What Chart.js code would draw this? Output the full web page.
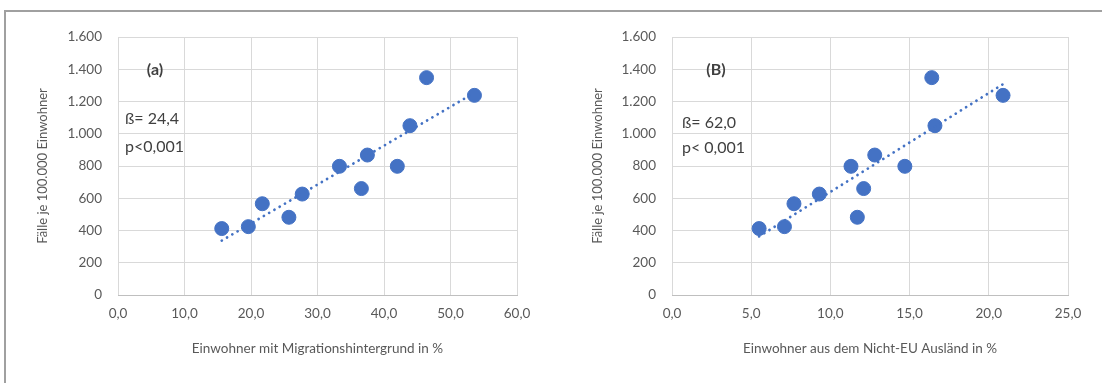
<!DOCTYPE html>
<html lang="de">
<head>
<meta charset="utf-8">
<title>Fälle je 100.000 Einwohner</title>
<script src="https://cdn.jsdelivr.net/npm/chart.js@4/dist/chart.umd.min.js"></script>
<style>
  html, body { margin: 0; padding: 0; background: #ffffff; }
  #page { position: relative; width: 1102px; height: 383px; overflow: hidden; }
  #frame {
    position: absolute; left: 4px; top: 10px; width: 1100px; height: 380px;
    border-left: 2px solid #a0a0a0; border-top: 2px solid #a0a0a0;
  }
  .panel { position: absolute; top: 0; width: 551px; height: 383px; }
  #panelA { left: 0; }
  #panelB { left: 551px; }
</style>
</head>
<body>
<div id="page">
  <div id="frame"></div>
  <div class="panel" id="panelA"><canvas id="chartA" width="551" height="383"></canvas></div>
  <div class="panel" id="panelB"><canvas id="chartB" width="551" height="383"></canvas></div>
</div>
<script>
// Cases per 100,000 inhabitants per region
const casesPer100k = [412, 424, 566, 482, 626, 798, 660, 868, 798, 1050, 1348, 1238];
// Share of inhabitants with a migration background, %
const migrationPct = [15.6, 19.6, 21.7, 25.7, 27.7, 33.3, 36.6, 37.5, 42.0, 43.9, 46.4, 53.6];
// Share of inhabitants from non-EU countries, %
const nonEuPct = [5.5, 7.1, 7.7, 11.7, 9.3, 11.3, 12.1, 12.8, 14.7, 16.6, 16.4, 20.9];

// Tick labels
const yTickLabels = ['0', '200', '400', '600', '800', '1.000', '1.200', '1.400', '1.600'];
const xTickLabelsA = ['0,0', '10,0', '20,0', '30,0', '40,0', '50,0', '60,0'];
const xTickLabelsB = ['0,0', '5,0', '10,0', '15,0', '20,0', '25,0'];

// Axis titles and panel notes
const yTitle = 'Fälle je 100.000 Einwohner';
const xTitleA = 'Einwohner mit Migrationshintergrund in %';
const xTitleB = 'Einwohner aus dem Nicht-EU Ausländ in %';
const notesA = ['(a)', 'ß= 24,4', 'p<0,001'];
const notesB = ['(B)', 'ß= 62,0', 'p< 0,001'];

const BLUE = '#4472C4';
const FONT = 'Lato, "Open Sans", sans-serif';

// Least-squares line over the x range of the data
function trendLine(xs, ys) {
  const n = xs.length;
  const mx = xs.reduce((a, b) => a + b, 0) / n;
  const my = ys.reduce((a, b) => a + b, 0) / n;
  let sxy = 0, sxx = 0;
  for (let i = 0; i < n; i++) {
    sxy += (xs[i] - mx) * (ys[i] - my);
    sxx += (xs[i] - mx) * (xs[i] - mx);
  }
  const slope = sxy / sxx;
  const x0 = Math.min(...xs), x1 = Math.max(...xs);
  return [
    { x: x0, y: my + slope * (x0 - mx) },
    { x: x1, y: my + slope * (x1 - mx) }
  ];
}

// Draws the panel letter and the regression notes inside the plot area
const notesPlugin = {
  id: 'panelNotes',
  afterDraw(chart, args, opts) {
    const { ctx, chartArea } = chart;
    ctx.save();
    ctx.fillStyle = '#404040';
    ctx.textBaseline = 'middle';
    opts.items.forEach(it => {
      ctx.font = (it.bold ? 'bold ' : '') + it.size + 'px ' + FONT;
      ctx.textAlign = it.align;
      ctx.fillText(it.text, chartArea.left + it.dx, chartArea.top + it.dy);
    });
    ctx.restore();
  }
};

function makeChart(id, xs, xMax, xStep, xLabels, xTitle, notes, padLeft, yWidth, noteOffsets) {
  const points = xs.map((x, i) => ({ x: x, y: casesPer100k[i] }));
  return new Chart(document.getElementById(id), {
    type: 'scatter',
    data: {
      datasets: [
        {
          type: 'line',
          data: trendLine(xs, casesPer100k),
          borderColor: BLUE,
          borderWidth: 2.7,
          borderDash: [0.1, 6],
          borderCapStyle: 'round',
          pointRadius: 0,
          fill: false,
          order: 0
        },
        {
          data: points,
          backgroundColor: BLUE,
          borderColor: BLUE,
          pointRadius: 7,
          pointHoverRadius: 7,
          order: 1
        }
      ]
    },
    options: {
      responsive: false,
      animation: false,
      events: [],
      layout: { padding: { left: padLeft, top: 37, right: 34, bottom: 20 } },
      plugins: {
        legend: { display: false },
        tooltip: { enabled: false },
        panelNotes: { items: noteOffsets.map((o, i) => Object.assign({ text: notes[i] }, o)) }
      },
      scales: {
        x: {
          type: 'linear',
          min: 0, max: xMax,
          afterFit: s => { s.height = 68; },
          grid: { color: '#d9d9d9', lineWidth: 1, drawTicks: false },
          border: { display: true, color: '#bfbfbf', width: 1 },
          ticks: {
            stepSize: xStep,
            padding: 11,
            color: '#595959',
            font: { family: FONT, size: 13.5 },
            maxRotation: 0,
            callback: (v, i) => xLabels[i]
          },
          title: {
            display: true,
            text: xTitle,
            color: '#595959',
            font: { family: FONT, size: 13.5 },
            padding: { top: 0, bottom: 6 }
          }
        },
        y: {
          type: 'linear',
          min: 0, max: 1600,
          afterFit: s => { s.width = yWidth; },
          grid: { color: '#d9d9d9', lineWidth: 1, drawTicks: false },
          border: { display: false },
          ticks: {
            stepSize: 200,
            padding: 16,
            color: '#595959',
            font: { family: FONT, size: 13.5 },
            callback: (v, i) => yTickLabels[i]
          },
          title: {
            display: true,
            text: yTitle,
            color: '#595959',
            font: { family: FONT, size: 13 },
            padding: { top: 5, bottom: 0 }
          }
        }
      }
    },
    plugins: [notesPlugin]
  });
}

makeChart('chartA', migrationPct, 60, 10, xTickLabelsA, xTitleA, notesA, 30, 88, [
  { dx: 37, dy: 33, size: 16, bold: true, align: 'center' },
  { dx: 7, dy: 82, size: 16, bold: false, align: 'left' },
  { dx: 7, dy: 110, size: 16, bold: false, align: 'left' }
]);

makeChart('chartB', nonEuPct, 25, 5, xTickLabelsB, xTitleB, notesB, 34, 87, [
  { dx: 44, dy: 33, size: 16, bold: true, align: 'center' },
  { dx: 10, dy: 86, size: 16, bold: false, align: 'left' },
  { dx: 10, dy: 111, size: 16, bold: false, align: 'left' }
]);
</script>
</body>
</html>
